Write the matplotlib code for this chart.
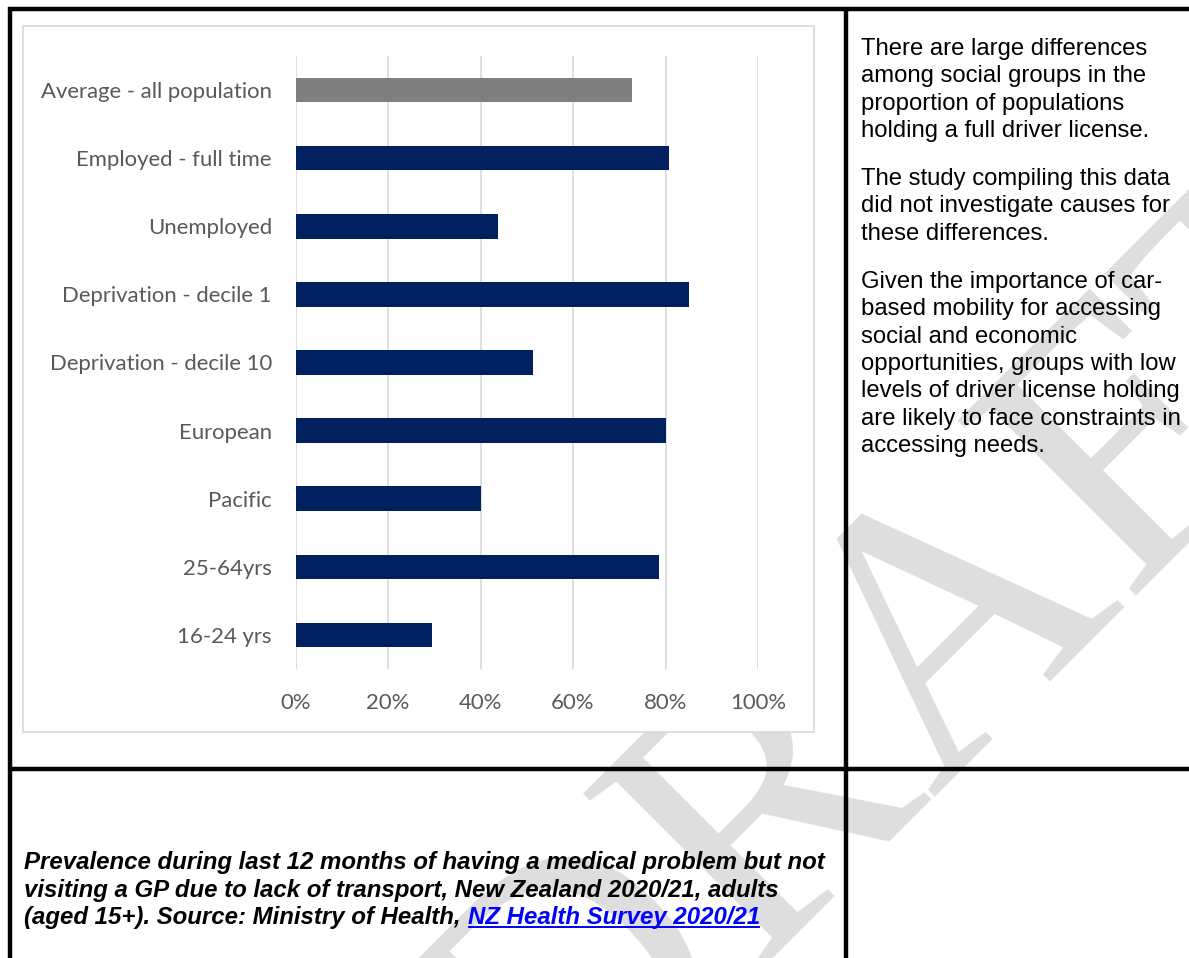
import matplotlib
matplotlib.use("Agg")
import matplotlib.pyplot as plt
from matplotlib.patches import Rectangle
import numpy as np

# ---------------- data ----------------
categories = ["Average - all population", "Employed - full time", "Unemployed",
              "Deprivation - decile 1", "Deprivation - decile 10", "European",
              "Pacific", "25-64yrs", "16-24 yrs"]
values = [72.8, 80.7, 43.7, 85.0, 51.4, 80.0, 40.2, 78.6, 29.6]
bar_colors = ["#7F7F7F"] + ["#002060"] * 8
xticks = [0, 20, 40, 60, 80, 100]
xtick_labels = ["0%", "20%", "40%", "60%", "80%", "100%"]

paragraphs = [
    ["There are large differences", "among social groups in the",
     "proportion of populations", "holding a full driver license."],
    ["The study compiling this data", "did not investigate causes for",
     "these differences."],
    ["Given the importance of car-", "based mobility for accessing",
     "social and economic", "opportunities, groups with low",
     "levels of driver license holding", "are likely to face constraints in",
     "accessing needs."],
]
caption_lines = ["Prevalence during last 12 months of having a medical problem but not",
                 "visiting a GP due to lack of transport, New Zealand 2020/21, adults",
                 "(aged 15+). Source: Ministry of Health, "]
caption_link = "NZ Health Survey 2020/21"
watermark = "DRAFT"

# ---------------- figure ----------------
W, H, DPI = 1189, 958, 100
fig = plt.figure(figsize=(W / DPI, H / DPI), dpi=DPI)
fig.patch.set_facecolor("white")
bg = fig.add_axes([0, 0, 1, 1])
bg.set_xlim(0, W)
bg.set_ylim(H, 0)
bg.axis("off")
renderer = fig.canvas.get_renderer()


def fit(txt, target_px):
    """scale font size so the text spans target_px"""
    w = txt.get_window_extent(renderer).width
    txt.set_fontsize(txt.get_fontsize() * target_px / w)


# watermark (behind everything)
bg.text(997, 724, watermark, family=["Liberation Serif", "DejaVu Serif"],
        fontsize=274, color="#DEDEDE", rotation=45, rotation_mode="anchor",
        ha="center", va="baseline", zorder=1)

# chart box
bg.add_patch(Rectangle((23, 26), 814 - 23, 732 - 26, facecolor="white",
                       edgecolor="#D9D9D9", lw=1.2, zorder=2))

# table borders
lw = 3.2
bg.plot([7.5, W], [8.5, 8.5], color="black", lw=lw, solid_capstyle="butt", zorder=6)
bg.plot([9.5, 9.5], [6.5, H], color="black", lw=lw, solid_capstyle="butt", zorder=6)
bg.plot([845.5, 845.5], [6.5, H], color="black", lw=lw, solid_capstyle="butt", zorder=6)
bg.plot([7.5, W], [768.8, 768.8], color="black", lw=lw, solid_capstyle="butt", zorder=6)

# right-hand text
sans = ["Liberation Sans", "DejaVu Sans"]
para_starts = [55, 185, 288]
step = 27.3
texts = []
for start, lines in zip(para_starts, paragraphs):
    for i, line in enumerate(lines):
        t = bg.text(861, start + i * step, line, family=sans, fontsize=15,
                    color="black", ha="left", va="baseline", zorder=4)
        texts.append(t)
ref = [t for t in texts if t.get_text().startswith("are likely")][0]
fit(ref, 320)
for t in texts:
    t.set_fontsize(ref.get_fontsize())

# caption
cap_family = ["Liberation Sans", "DejaVu Sans"]
cap_base = [869, 896.5, 924]
cap_texts = []
for y, line in zip(cap_base, caption_lines):
    t = bg.text(24.5, y, line, family=cap_family, fontsize=15, fontweight="bold",
                style="italic", color="black", ha="left", va="baseline", zorder=4)
    cap_texts.append(t)
fit(cap_texts[0], 802)
for t in cap_texts:
    t.set_fontsize(cap_texts[0].get_fontsize())
fs_cap = cap_texts[0].get_fontsize()
bb = cap_texts[2].get_window_extent(renderer)
inv = bg.transData.inverted()
link_x = inv.transform((bb.x1, bb.y0))[0]
lt = bg.text(link_x, cap_base[2], caption_link, family=cap_family, fontsize=fs_cap,
             fontweight="bold", style="italic", color="#0000FF", ha="left",
             va="baseline", zorder=4)
lb = lt.get_window_extent(renderer)
lx0 = inv.transform((lb.x0, lb.y0))[0]
lx1 = inv.transform((lb.x1, lb.y0))[0]
bg.plot([lx0, lx1], [cap_base[2] + 3, cap_base[2] + 3], color="#0000FF", lw=1.4,
        solid_capstyle="butt", zorder=4)

# ---------------- bar chart ----------------
x0, x1, y0, y1 = 295.5, 758.0, 56.0, 669.0
ax = fig.add_axes([x0 / W, 1 - y1 / H, (x1 - x0) / W, (y1 - y0) / H])
ax.set_facecolor("none")
pos = np.arange(len(categories))
ax.barh(pos, values, height=0.36, color=bar_colors, zorder=3)
ax.set_ylim(len(categories) - 0.5, -0.5)
ax.set_xlim(0, 100)
ax.set_xticks(xticks)
ax.set_xticklabels(xtick_labels)
ax.set_yticks(pos)
ax.set_yticklabels(categories)
ax.grid(axis="x", color="#D9D9D9", lw=1.2, zorder=0)
ax.set_axisbelow(True)
for s in ax.spines.values():
    s.set_visible(False)
ax.tick_params(axis="both", length=0, colors="#595959", labelsize=14.5)
ax.tick_params(axis="x", pad=17)
ax.tick_params(axis="y", pad=17)
for lab in ax.get_xticklabels() + ax.get_yticklabels():
    lab.set_family(["Lato", "DejaVu Sans"])

fig.canvas.draw()
ylabs = ax.get_yticklabels()
w0 = ylabs[0].get_window_extent(renderer).width
fs_lab = 14.5 * 231 / w0
for lab in ax.get_xticklabels() + ax.get_yticklabels():
    lab.set_fontsize(fs_lab)

fig.savefig("out.png", dpi=DPI, facecolor="white")
